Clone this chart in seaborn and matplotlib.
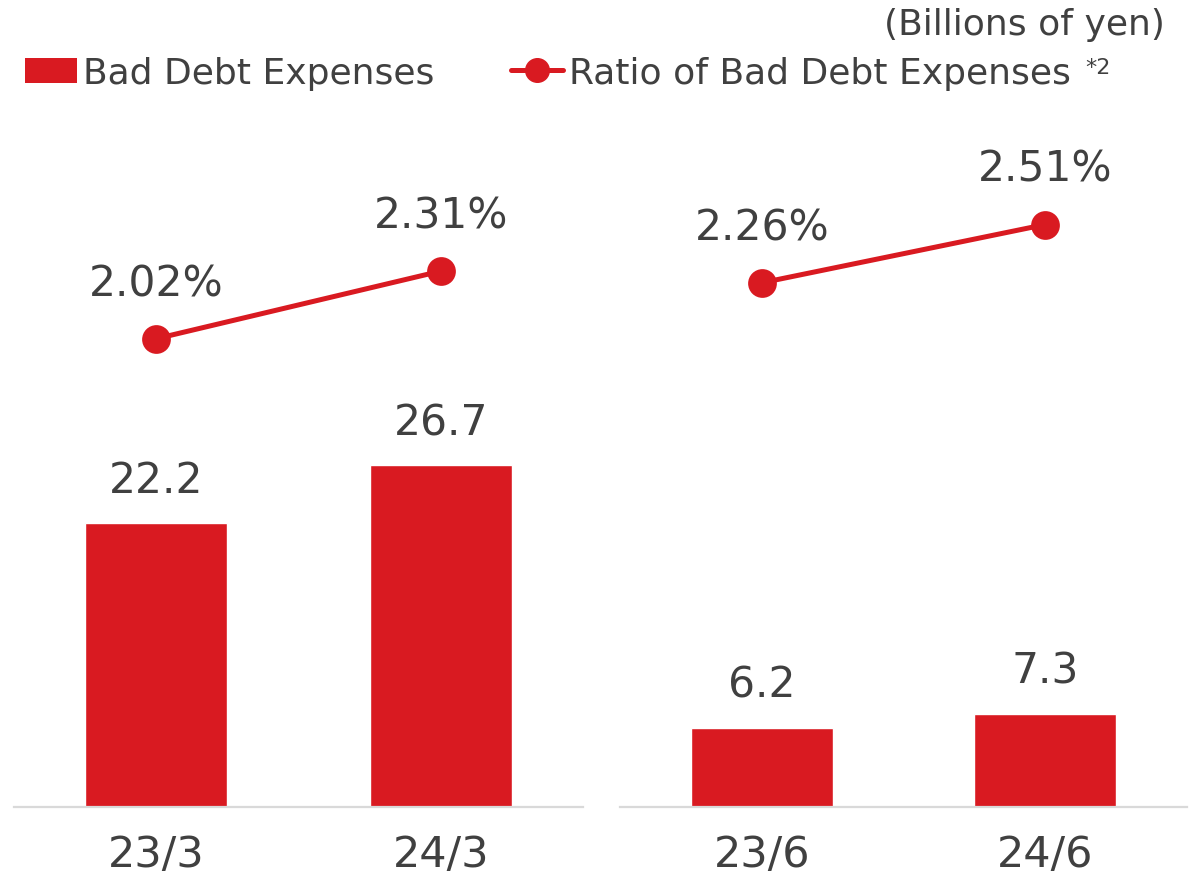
import matplotlib
matplotlib.use("Agg")
import matplotlib.pyplot as plt
import seaborn as sns
from matplotlib.lines import Line2D
from matplotlib.patches import Patch

# Data
periods_fy = ["23/3", "24/3"]
bad_debt_fy = [22.2, 26.7]
ratio_fy = [2.02, 2.31]

periods_q = ["23/6", "24/6"]
bad_debt_q = [6.2, 7.3]
ratio_q = [2.26, 2.51]

RED = "#D91A21"
TEXT = "#404040"
GRID = "#D9D9D9"

sns.set_theme(style="white")
plt.rcParams["font.family"] = ["DejaVu Sans"]

W, H = 1193, 878
fig = plt.figure(figsize=(W / 100, H / 100), dpi=100)

bottom = (H - 808) / H
height = 688 / H
panels = [
    (14 / W, 569 / W, periods_fy, bad_debt_fy, ratio_fy),
    (620 / W, 567 / W, periods_q, bad_debt_q, ratio_q),
]

for left, width, cats, bars, ratios in panels:
    ax = fig.add_axes([left, bottom, width, height])
    sns.barplot(x=cats, y=bars, ax=ax, color=RED, width=0.5, saturation=1)
    ax.set_ylim(0, 53.75)
    ax.set_xlim(-0.5, 1.5)
    for i, v in enumerate(bars):
        ax.annotate(f"{v:.1f}", (i, v), xytext=(0, 31), textcoords="offset points",
                    ha="center", va="center", fontsize=30.5, color=TEXT)

    ax2 = ax.twinx()
    sns.pointplot(x=cats, y=ratios, ax=ax2, color=RED, markers="o",
                  markersize=18, linewidth=3.6)
    ax2.set_ylim(0.01, 2.963)
    ax2.set_xlim(-0.5, 1.5)
    for i, v in enumerate(ratios):
        ax2.annotate(f"{v:.2f}%", (i, v), xytext=(0, 40), textcoords="offset points",
                     ha="center", va="center", fontsize=30.5, color=TEXT)

    for a in (ax, ax2):
        for s in ("top", "left", "right", "bottom"):
            a.spines[s].set_visible(False)
        a.set_yticks([])
        a.set_ylabel("")
        a.set_xlabel("")
    ax.spines["bottom"].set_visible(True)
    ax.spines["bottom"].set_color(GRID)
    ax.spines["bottom"].set_linewidth(1.6)
    ax.tick_params(axis="x", length=0, pad=19, labelsize=31, labelcolor=TEXT)

handles = [
    Patch(facecolor=RED, edgecolor="none"),
    Line2D([0], [0], color=RED, lw=3.6, marker="o", markersize=17),
]
labels = ["Bad Debt Expenses", "Ratio of Bad Debt Expenses"]
leg = fig.legend(handles, labels, loc="center left", bbox_to_anchor=(25 / W, 1 - 74 / H),
                 ncol=2, frameon=False, borderpad=0, borderaxespad=0,
                 handlelength=1.45, handletextpad=0.17, columnspacing=2.1,
                 fontsize=26, labelcolor=TEXT)

fig.text(1165 / W, 1 - 25 / H, "(Billions of yen)", ha="right", va="center",
         fontsize=26, color=TEXT)

fig.canvas.draw()
bb = leg.get_texts()[1].get_window_extent()
fig.text((bb.x1 + 14) / W, 1 - 68 / H, "*2", ha="left", va="center",
         fontsize=16, color=TEXT)

fig.savefig("out.png", dpi=100)
